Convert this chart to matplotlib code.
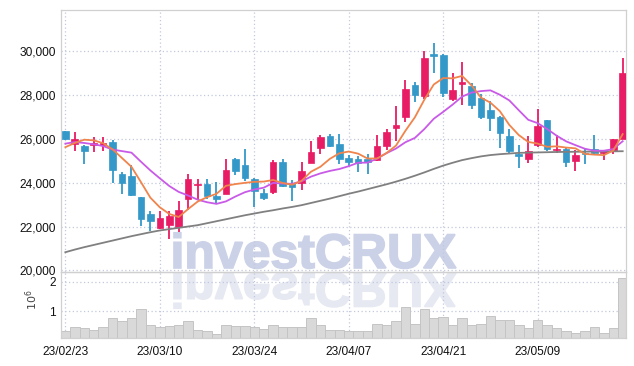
import numpy as np
import pandas as pd
import matplotlib
matplotlib.use("Agg")
import matplotlib.pyplot as plt
from matplotlib.textpath import TextPath
from matplotlib.patches import PathPatch
from matplotlib.font_manager import FontProperties
from matplotlib.transforms import Affine2D, IdentityTransform
from matplotlib.ticker import FuncFormatter, FixedLocator

plt.rcParams['font.family'] = ['Liberation Sans', 'DejaVu Sans']

# ---------------- data ----------------
dates = ["23/02/23", "23/03/10", "23/03/24", "23/04/07", "23/04/21", "23/05/09"]
date_pos = [0, 10, 20, 30, 40, 50]

opens = [26330, 25770, 25660, 25720, 25730, 25830, 24410, 24290, 23320, 22590,
         21940, 22050, 21990, 23270, 23880, 23940, 23380, 23470, 25090, 24790,
         24140, 23520, 23560, 24920, 23990, 23960, 24900, 25590, 26100, 25770,
         25100, 25060, 25090, 25010, 25680, 26490, 26980, 28460, 27960, 29840,
         29820, 27800, 28470, 28410, 27840, 27320, 26980, 26100, 25320, 25090,
         25720, 26830, 25470, 25540, 24970, 25360, 25540, 25360, 25420, 26000]
highs = [26360, 26300, 25700, 26070, 26070, 25950, 24480, 24820, 23340, 22700,
         22710, 22710, 23150, 24380, 24150, 24180, 24030, 25090, 25100, 25540,
         24200, 23720, 25040, 25090, 24100, 24920, 25900, 26150, 26220, 26220,
         25240, 25220, 25320, 26150, 26440, 27460, 28660, 28590, 29970, 30340,
         29830, 28970, 29470, 28520, 28040, 27730, 27050, 26450, 25720, 26110,
         27350, 26840, 26150, 25560, 25500, 25510, 26150, 25500, 26000, 29670]
lows = [25920, 25420, 24860, 25390, 25430, 23980, 23500, 23370, 22020, 21790,
        21870, 21420, 21730, 22750, 23200, 23230, 23080, 23460, 24330, 24050,
        22890, 23200, 23470, 23800, 23150, 23650, 24880, 25320, 25600, 24860,
        24740, 24470, 24380, 24990, 25470, 25870, 26740, 27660, 27780, 29000,
        27870, 27730, 27550, 27360, 26870, 26330, 25590, 25320, 24680, 24910,
        25610, 25430, 25360, 24710, 24510, 24830, 25240, 25010, 25280, 26000]
closes = [25960, 25960, 25430, 25790, 25810, 24560, 23980, 23440, 22320, 22260,
          22370, 22470, 22740, 24140, 23940, 23380, 23240, 24560, 24530, 24220,
          23610, 23300, 24920, 23850, 23810, 24510, 25370, 26050, 25650, 25070,
          24920, 24880, 24940, 25670, 26310, 26600, 28260, 28000, 29670, 29770,
          28070, 28190, 28560, 27510, 26980, 26930, 26250, 25430, 25210, 25420,
          26550, 25520, 25540, 24930, 25240, 25280, 25360, 25430, 25960, 28990]
volumes_m = [0.33, 0.45, 0.41, 0.37, 0.45, 0.75, 0.66, 0.75, 1.06, 0.51,
             0.45, 0.48, 0.51, 0.66, 0.37, 0.33, 0.23, 0.54, 0.48, 0.48,
             0.45, 0.40, 0.54, 0.45, 0.45, 0.45, 0.75, 0.54, 0.37, 0.37,
             0.33, 0.33, 0.33, 0.57, 0.51, 0.66, 1.13, 0.57, 1.09, 0.75,
             0.80, 0.54, 0.78, 0.51, 0.57, 0.85, 0.69, 0.69, 0.51, 0.41,
             0.69, 0.51, 0.41, 0.33, 0.26, 0.31, 0.47, 0.26, 0.41, 2.14]
# moving-average values before enough in-window data exist
ma5_head = [25610, 25800, 25950, 25920]
ma10_head = [25770, 25840, 25800, 25740, 25660, 25500, 25430, 25360, 24950]
# long moving average (grey)
ma_long = [20830, 20950, 21060, 21160, 21260, 21360, 21460, 21560, 21650, 21740,
           21820, 21880, 21940, 22000, 22060, 22150, 22240, 22330, 22420, 22510,
           22590, 22670, 22740, 22820, 22890, 22970, 23070, 23170, 23270, 23380,
           23490, 23590, 23700, 23810, 23920, 24040, 24170, 24310, 24460, 24620,
           24770, 24900, 25020, 25110, 25190, 25250, 25290, 25320, 25350, 25360,
           25370, 25380, 25390, 25395, 25400, 25405, 25410, 25415, 25420, 25425]

# ---------------- derived ----------------
n = len(closes)
x = np.arange(n)
o = np.array(opens, float); c = np.array(closes, float)
h = np.array(highs, float); l = np.array(lows, float)
ma5 = pd.Series(c).rolling(5).mean().to_numpy()
ma5[:len(ma5_head)] = ma5_head
ma10 = pd.Series(c).rolling(10).mean().to_numpy()
ma10[:len(ma10_head)] = ma10_head

RED = '#e81c64'
BLUE = '#3498c8'
ORANGE = '#f0844c'
PURPLE = '#c95ae8'
GREY = '#808080'
GRID = '#c3c9dc'

W, H = 634, 366
fig = plt.figure(figsize=(W / 100, H / 100), dpi=100)
fig.patch.set_facecolor('white')

left, right = 61 / W, 626 / W
ax = fig.add_axes([left, 1 - 272 / H, right - left, (272 - 10) / H])
axv = fig.add_axes([left, 1 - 338 / H, right - left, (338 - 272) / H], sharex=ax)
for a in (ax, axv):
    a.set_facecolor('none')
    for s in a.spines.values():
        s.set_color('#d0d0d0')
        s.set_linewidth(0.9)
    a.tick_params(length=0, colors='#111111', labelsize=8.6)
    a.grid(True, color=GRID, linestyle=(0, (1, 2)), linewidth=0.9)
    a.set_axisbelow(True)

# watermark (behind axes)
fp = FontProperties(family=['Liberation Sans', 'DejaVu Sans'], weight='bold')
tp = TextPath((0, 0), 'investCRUX', size=100, prop=fp)
bb = tp.get_extents()
sx = (456 - 174) / bb.width
sy = 35 / 72.0
tr = Affine2D().translate(-bb.x0, 0).scale(sx, sy).translate(174, H - 268)
fig.patches.append(PathPatch(tr.transform_path(tp), facecolor='#cbd1e7',
                             edgecolor='#cbd1e7', linewidth=1.2,
                             transform=IdentityTransform(), zorder=-5, figure=fig))
tr2 = Affine2D().translate(-bb.x0, 0).scale(sx, -sy).translate(174, H - 273)
fig.patches.append(PathPatch(tr2.transform_path(tp), facecolor='#e6e9f2',
                             edgecolor='#e6e9f2', linewidth=1.2,
                             transform=IdentityTransform(), zorder=-5, figure=fig))

# candles
up = c >= o
cols = np.where(up, RED, BLUE)
body_bottom = np.minimum(o, c)
body_h = np.maximum(np.abs(c - o), 45)
ax.vlines(x, l, h, colors=cols, linewidth=1.3, zorder=2)
ax.bar(x, body_h, bottom=body_bottom, width=0.7, color=cols, edgecolor=cols,
       linewidth=0.5, zorder=3)

ax.plot(x, ma_long, color=GREY, linewidth=1.3, zorder=4)
ax.plot(x, ma10, color=PURPLE, linewidth=1.3, zorder=4)
ax.plot(x, ma5, color=ORANGE, linewidth=1.3, zorder=5)

ax.set_ylim(19930, 31850)
ax.set_yticks([20000, 22000, 24000, 26000, 28000, 30000])
ax.yaxis.set_major_formatter(FuncFormatter(lambda v, p: f"{int(v):,}"))
ax.set_xlim(-0.46, 59.35)
ax.tick_params(axis='x', labelbottom=False)

# volume
vol = np.array(volumes_m) * 1e6
axv.bar(x, vol, width=1.0, color='#d9d9d9', edgecolor='#c4c4c4', linewidth=0.7, zorder=2)
axv.set_ylim(0.08e6, 2.34e6)
axv.set_yticks([1e6, 2e6])
axv.yaxis.set_major_formatter(FuncFormatter(lambda v, p: f"{v / 1e6:.0f}"))
axv.xaxis.set_major_locator(FixedLocator(date_pos))
axv.set_xticklabels(dates)
axv.tick_params(axis='x', pad=6)
fig.text(32 / W, 1 - 300 / H, r'$10^6$', rotation=90, ha='center', va='center',
         fontsize=8, color='#444444')

fig.savefig('out.png', dpi=100, facecolor='white')
